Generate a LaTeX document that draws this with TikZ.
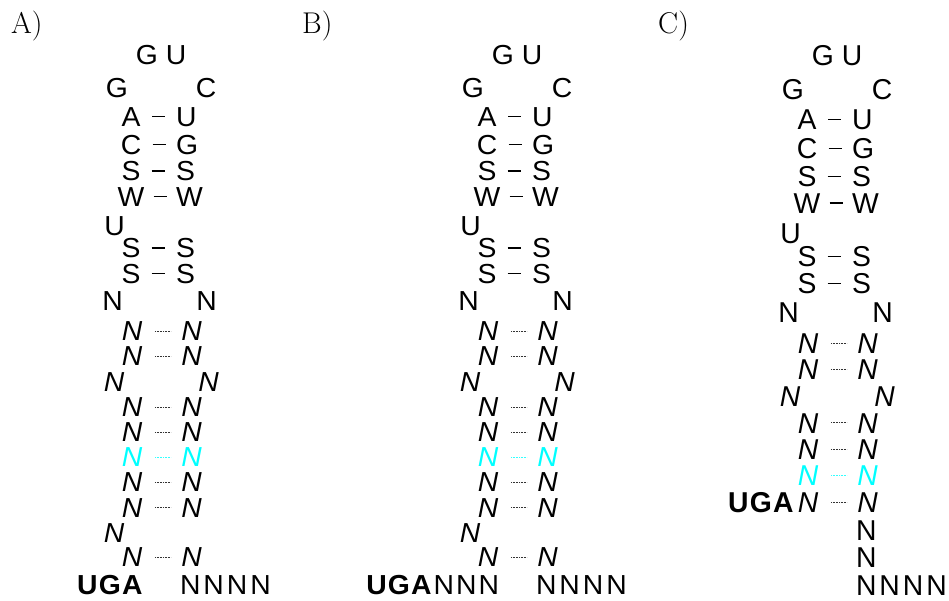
\documentclass[tikz,border=0pt]{standalone}
\usepackage{fontspec}
\usetikzlibrary{calc}
\newfontfamily\seqfont[FakeStretch=1.03]{Liberation Sans}
\newcommand\nucfont{\seqfont\fontsize{27.5}{32}\selectfont}
\newcommand\hcap{9.8}       % half the cap height: baseline below the row centre
\newcommand\lk{\kern3pt}    % tracking between bases written as one run
\newcommand\lkm{\kern2pt}   % tracking after the stop codon
\newcommand\lkb{\kern1.2pt} % tracking inside the bold stop codon
\definecolor{seqcyan}{RGB}{0,255,255}

\tikzset{
  nuc/.style={inner sep=0pt, outer sep=0pt, font=\nucfont},
  nit/.style={nuc, font=\nucfont\itshape},
  nbf/.style={nuc, font=\nucfont\bfseries},
  wcbar/.style={line width=1.3pt, black},
  npdots/.style={line width=0.9pt, dash pattern=on 0.8pt off 0.8pt},
  panellabel/.style={inner sep=0pt, font=\fontsize{30}{32}\selectfont},
}

% canonical pair: two bases joined by a short bar
\newcommand\wc[4]{%
  \node[nuc,anchor=base] (#1l) at (131,#2+\hcap) {#3};
  \node[nuc,anchor=base west] (#1r) at (176,#2+\hcap) {#4};
  \draw[wcbar] ($(#1l.base)!.5!(#1r.base)+(-6.5,-\hcap)$) -- ++(13,0);}

% variable pair: two italic N joined by a dotted line
\newcommand\np[3][black]{%
  \node[nit,anchor=base,text=#1] (#2l) at (132,#3+\hcap) {N};
  \node[nit,anchor=base,text=#1] (#2r) at (191.5,#3+\hcap) {N};
  \draw[npdots,#1!80] ($(#2l.base)!.5!(#2r.base)+(-6.8,-\hcap)$) -- ++(16,0);}

% loop, upper stem and the first variable pairs, shared by all panels
\newcommand\stemtop[1]{%
  \node[nuc,anchor=base] (#1topG) at (147,55+\hcap) {G};
  \node[nuc,anchor=base] (#1topU) at (176,55+\hcap) {U};
  \node[nuc,anchor=base] (#1loopG) at (117,88+\hcap) {G};
  \node[nuc,anchor=base] (#1loopC) at (206,88+\hcap) {C};
  \wc{#1a}{116.5}{A}{U}
  \wc{#1b}{144.5}{C}{G}
  \wc{#1c}{171}{S}{S}
  \wc{#1d}{196.5}{W}{W}
  \node[nuc,anchor=base] (#1bulge) at (114.5,226+\hcap) {U};
  \wc{#1e}{248}{S}{S}
  \wc{#1f}{273.5}{S}{S}
  \node[nuc,anchor=base] (#1openL) at (112.5,301+\hcap) {N};
  \node[nuc,anchor=base] (#1openR) at (206.5,301+\hcap) {N};
  \np{#1h}{331}
  \np{#1i}{356}
  \node[nit,anchor=base] (#1mmL) at (114,382+\hcap) {N};
  \node[nit,anchor=base] (#1mmR) at (208.5,382+\hcap) {N};
  \np{#1j}{407}
  \np{#1k}{432}
  \np[seqcyan]{#1m}{457}
}

% lower stem of panels A and B
\newcommand\stemlow[1]{%
  \np{#1p}{482}
  \np{#1q}{507.5}
  \node[nit,anchor=base] (#1bulgeN) at (114,533+\hcap) {N};
  \np{#1r}{557}
}

\begin{document}
\begin{tikzpicture}[x=1pt,y=-1pt]
  \fill[white] (0,0) rectangle (949,601);
  \useasboundingbox (0,0) rectangle (949,601);

  \node[panellabel,anchor=base west] (labA) at (11,33.5) {A)};
  \node[panellabel,anchor=base west] (labB) at (302,33.5) {B)};
  \node[panellabel,anchor=base west] (labC) at (658,33.5) {C)};

  % panel A
  \begin{scope}
    \stemtop{A}
    \stemlow{A}
    \node[nbf,anchor=base east] (Astop) at (142.5,584.5+\hcap) {U\lkb G\lkb A};
    \node[nuc,anchor=base west] (Atail) at (180,584.5+\hcap) {N\lk N\lk N\lk N};
  \end{scope}

  % panel B
  \begin{scope}[xshift=356pt]
    \stemtop{B}
    \stemlow{B}
    \node[nuc,anchor=base east] (Bstop) at (143,584.5+\hcap) {{\bfseries U\lkb G\lkb A}\lkm N\lkm N\lkm N};
    \node[nuc,anchor=base west] (Btail) at (180,584.5+\hcap) {N\lk N\lk N\lk N};
  \end{scope}

  % panel C
  \begin{scope}[xshift=676pt, yshift=2.475pt, yscale=1.045, transform shape]
    \stemtop{C}
    \np{Cp}{482.8}
    \node[nbf,anchor=base east] (Cstop) at (117.5,482.8+\hcap) {U\lkb G\lkb A};
    \node[nuc,anchor=base west] (Ct1) at (180,509.6+\hcap) {N};
    \node[nuc,anchor=base west] (Ct2) at (180,535.4+\hcap) {N};
    \node[nuc,anchor=base west] (Ctail) at (180,562.2+\hcap) {N\lk N\lk N\lk N};
  \end{scope}
\end{tikzpicture}
\end{document}
